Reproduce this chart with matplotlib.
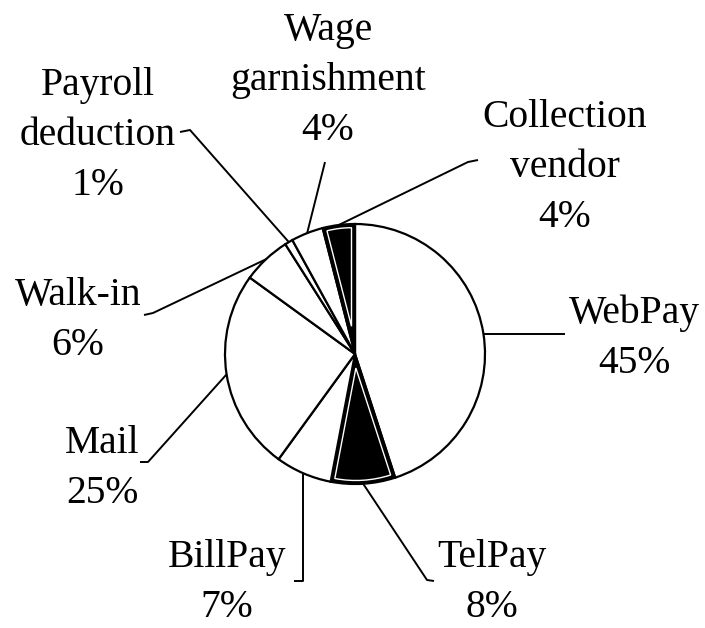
import numpy as np
import matplotlib.pyplot as plt
from matplotlib.patches import Wedge

# data, clockwise from 12 o'clock
labels = ["WebPay", "TelPay", "BillPay", "Mail", "Walk-in",
          "Payroll\ndeduction", "Wage\ngarnishment", "Collection\nvendor"]
shares = [45, 8, 7, 25, 6, 1, 4, 4]
filled = [False, True, False, False, False, False, False, True]

# layout in reference pixels (pie center 355,354, radius 130)
CX, CY, R = 355, 354, 130
text_pos = [(634, 323), (492, 567), (227, 567), (102, 453), (78, 305),
            (98, 95), (328, 40), (565, 127)]
elbows = [[(565, None)],
          [(427, 580), (434, 581)],
          [(None, 581), (294, 581)],
          [(148, 462), (140, 462)],
          [(153, 313), (144, 315)],
          [(190, 130), (180, 132)],
          [(325, 162)],
          [(468, 162), (478, 160)]]
LINE_STEP = 50
FONT = 28.5


def px(x, y):
    return (x - CX) / R, (CY - y) / R


fig = plt.figure(figsize=(7.05, 6.28), dpi=100)
ax = fig.add_axes([0, 0, 1, 1])
x0, y1 = px(0, 0)
x1, y0 = px(705, 628)

colors = ["black" if f else "white" for f in filled]
wedges, _ = ax.pie(shares, startangle=90, counterclock=False, colors=colors,
                   radius=1, center=(0, 0), frame=True,
                   wedgeprops=dict(edgecolor="black", linewidth=1.6))
ax.set_xlim(x0, x1)
ax.set_ylim(y0, y1)
ax.set_aspect("equal")
ax.axis("off")

# white inner outline on the dark wedges
d = 3.5 / R
for w, f in zip(wedges, filled):
    if not f:
        continue
    half = np.deg2rad(w.theta2 - w.theta1) / 2
    mid = np.deg2rad((w.theta1 + w.theta2) / 2)
    shift = d / np.sin(half)
    c = (shift * np.cos(mid), shift * np.sin(mid))
    ax.add_patch(Wedge(c, 1 - d - shift, w.theta1, w.theta2,
                       facecolor="black", edgecolor="white", linewidth=1.0))

for w, lab, tp, el in zip(wedges, labels, text_pos, elbows):
    mid = np.deg2rad((w.theta1 + w.theta2) / 2)
    ax0, ay0 = np.cos(mid), np.sin(mid)
    xs, ys = [ax0], [ay0]
    for ex, ey in el:
        X, Y = px(ex if ex is not None else CX + R * ax0,
                  ey if ey is not None else CY - R * ay0)
        xs.append(X)
        ys.append(Y)
    ax.plot(xs, ys, color="black", linewidth=1.4, solid_capstyle="butt")

    pct = f"{shares[labels.index(lab)]}%"
    lines = lab.split("\n") + [pct]
    for i, s in enumerate(lines):
        X, Y = px(tp[0], tp[1] + i * LINE_STEP)
        ax.text(X, Y, s, ha="center", va="baseline", fontsize=FONT,
                family="Liberation Serif", color="black")

fig.savefig("out.png", dpi=100, facecolor="white")
